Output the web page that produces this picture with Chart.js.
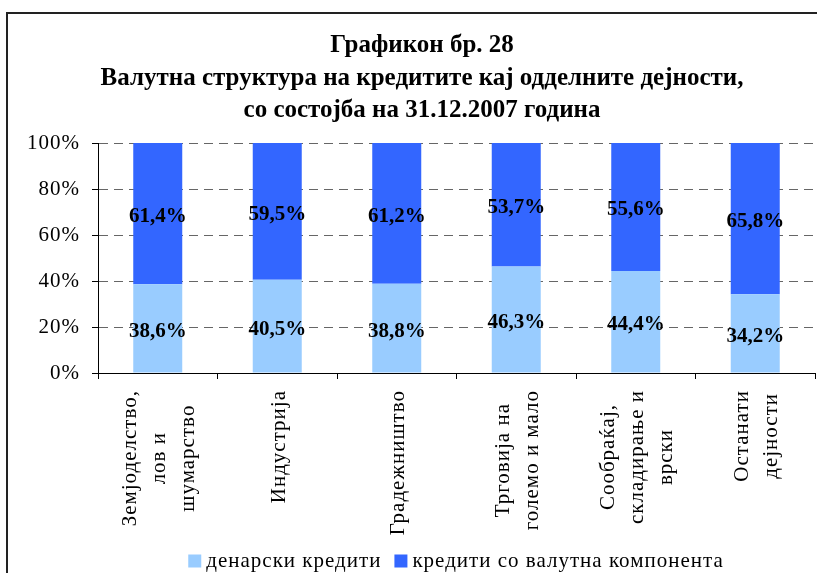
<!DOCTYPE html>
<html>
<head>
<meta charset="utf-8">
<script src="https://cdn.jsdelivr.net/npm/chart.js@4"></script>
<style>
  html, body { margin: 0; padding: 0; background: #fff; }
  #wrap { width: 817px; height: 573px; }
</style>
</head>
<body>
<div id="wrap"><canvas id="chart" width="817" height="573"></canvas></div>
<script>
// Data
const categories = [
  ['Земјоделство,', 'лов и', 'шумарство'],
  ['Индустрија'],
  ['Градежништво'],
  ['Трговија на', 'големо и мало'],
  ['Сообраќај,', 'складирање и', 'врски'],
  ['Останати', 'дејности']
];
const denarValues = [38.6, 40.5, 38.8, 46.3, 44.4, 34.2];
const fxValues = [61.4, 59.5, 61.2, 53.7, 55.6, 65.8];
const seriesNames = ['денарски кредити', 'кредити со валутна компонента'];
const seriesColors = ['#99CCFF', '#3366FF'];
const yTicks = [0, 20, 40, 60, 80, 100];
const titleLines = [
  'Графикон бр. 28',
  'Валутна структура на кредитите кај одделните дејности,',
  'со состојба на 31.12.2007 година'
];

const SERIF = '"Liberation Serif", "Times New Roman", serif';
Chart.defaults.font.family = SERIF;

// Frame around the chart (only top and left edge visible) + wider text spacing
const framePlugin = {
  id: 'frame',
  beforeDraw(chart) {
    const c = chart.ctx;
    c.letterSpacing = '1px';
    c.save();
    c.strokeStyle = '#222';
    c.lineWidth = 2;
    c.beginPath();
    c.moveTo(7, 600);
    c.lineTo(7, 13);
    c.lineTo(817, 13);
    c.stroke();
    c.restore();
  }
};

// Title, three bold lines
const titlePlugin = {
  id: 'titleLines',
  afterDraw(chart) {
    const c = chart.ctx;
    c.save();
    c.letterSpacing = '0px';
    c.font = 'bold 25px ' + SERIF;
    c.fillStyle = '#000';
    c.textAlign = 'center';
    c.textBaseline = 'middle';
    titleLines.forEach((t, i) => c.fillText(t, 422, 46 + i * 32.5));
    c.restore();
  }
};

// Values written inside each bar segment
const valueLabels = {
  id: 'valueLabels',
  afterDatasetsDraw(chart) {
    const c = chart.ctx;
    c.save();
    c.letterSpacing = '0px';
    c.font = 'bold 21px ' + SERIF;
    c.fillStyle = '#000';
    c.textAlign = 'center';
    c.textBaseline = 'middle';
    chart.data.datasets.forEach((ds, i) => {
      chart.getDatasetMeta(i).data.forEach((bar, j) => {
        const y = (bar.y + bar.base) / 2 + 3;
        c.fillText(ds.data[j].toFixed(1).replace('.', ',') + '%', bar.x, y);
      });
    });
    c.restore();
  }
};

// Category labels, rotated and centred line by line
const catLabels = {
  id: 'catLabels',
  afterDraw(chart) {
    const c = chart.ctx;
    const xs = chart.scales.x;
    const top = chart.chartArea.bottom + 17;
    const lineGap = 29;
    c.save();
    c.font = '21px ' + SERIF;
    c.fillStyle = '#000';
    c.textAlign = 'center';
    c.textBaseline = 'middle';
    categories.forEach((lines, i) => {
      const cx = xs.getPixelForValue(i) + 2;
      const maxLen = Math.max(...lines.map(l => c.measureText(l).width));
      lines.forEach((line, k) => {
        const lx = cx + (k - (lines.length - 1) / 2) * lineGap;
        c.save();
        c.translate(lx, top + maxLen / 2);
        c.rotate(-Math.PI / 2);
        c.fillText(line, 0, 0);
        c.restore();
      });
    });
    c.restore();
  }
};

// Legend at the bottom
const bottomLegend = {
  id: 'bottomLegend',
  afterDraw(chart) {
    const c = chart.ctx;
    const box = 13, gapBox = 5, gapItem = 13;
    const cy = 561, center = 456;
    c.save();
    c.font = '21px ' + SERIF;
    c.textBaseline = 'middle';
    c.textAlign = 'left';
    const widths = seriesNames.map(n => c.measureText(n).width);
    const total = widths.reduce((a, w) => a + box + gapBox + w, 0) + gapItem;
    let x = center - total / 2;
    seriesNames.forEach((name, i) => {
      c.fillStyle = seriesColors[i];
      c.fillRect(x, cy - box / 2, box, box);
      c.fillStyle = '#000';
      c.fillText(name, x + box + gapBox, cy);
      x += box + gapBox + widths[i] + gapItem;
    });
    c.restore();
  }
};

const ctx = document.getElementById('chart').getContext('2d');
new Chart(ctx, {
  type: 'bar',
  data: {
    labels: categories.map(l => l.join(' ')),
    datasets: [{
      label: seriesNames[0],
      data: denarValues,
      backgroundColor: seriesColors[0],
      categoryPercentage: 1,
      barPercentage: 0.41
    }, {
      label: seriesNames[1],
      data: fxValues,
      backgroundColor: seriesColors[1],
      categoryPercentage: 1,
      barPercentage: 0.41
    }]
  },
  options: {
    responsive: false,
    animation: false,
    layout: { padding: { left: 0, right: 2, top: 143, bottom: 0 } },
    scales: {
      x: {
        stacked: true,
        ticks: { display: false },
        grid: { drawOnChartArea: false, tickLength: 6, tickColor: '#000', tickWidth: 1 },
        border: { color: '#000', width: 1 },
        afterFit(scale) { scale.height = 200; }
      },
      y: {
        stacked: true,
        min: 0,
        max: 100,
        afterBuildTicks(scale) { scale.ticks = yTicks.map(v => ({ value: v })); },
        ticks: {
          padding: 12,
          color: '#000',
          font: { family: SERIF, size: 21 },
          callback: v => v + '%'
        },
        grid: {
          color: '#666',
          lineWidth: 1,
          tickLength: 6,
          tickColor: '#000',
          tickBorderDash: []
        },
        border: { color: '#000', width: 1, dash: [9, 6] },
        afterFit(scale) { scale.width = 98; }
      }
    },
    plugins: {
      title: { display: false },
      legend: { display: false },
      tooltip: { enabled: false }
    }
  },
  plugins: [framePlugin, titlePlugin, valueLabels, catLabels, bottomLegend]
});
</script>
</body>
</html>
